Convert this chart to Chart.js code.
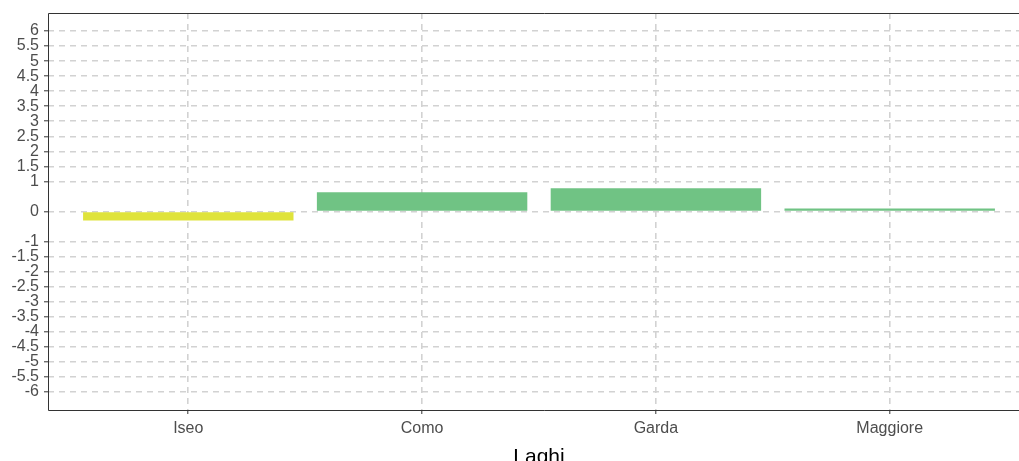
<!DOCTYPE html>
<html>
<head>
<meta charset="utf-8">
<script src="https://cdn.jsdelivr.net/npm/chart.js@4/dist/chart.umd.min.js"></script>
<style>
  html, body { margin: 0; padding: 0; background: #fff; overflow: hidden; }
  #wrap { width: 1019px; height: 461px; overflow: hidden; }
  canvas { display: block; }
</style>
</head>
<body>
<div id="wrap"><canvas id="laghiChart" width="1040" height="470"></canvas></div>
<script>
// Dati del grafico
const laghi = ['Iseo', 'Como', 'Garda', 'Maggiore'];
const valori = [-0.3, 0.64, 0.77, 0.1];
const coloriBarre = ['#dfe33c', '#70c384', '#70c384', '#70c384'];
const tickY = [-6, -5.5, -5, -4.5, -4, -3.5, -3, -2.5, -2, -1.5, -1, 0, 1, 1.5, 2, 2.5, 3, 3.5, 4, 4.5, 5, 5.5, 6];

const griglia = '#d2d2d2';
const testo = '#4d4d4d';
const fontBase = 'Arial, "Liberation Sans"';

// Bordo del pannello (stile ggplot theme_bw), il lato destro esce dall'immagine
const bordoPannello = {
    id: 'bordoPannello',
    afterDraw(chart) {
        const { ctx, chartArea } = chart;
        const l = chartArea.left + 0.5, t = chartArea.top + 0.5;
        const r = chart.width + 5, b = chartArea.bottom + 0.5;
        ctx.save();
        ctx.strokeStyle = '#333333';
        ctx.lineWidth = 1;
        ctx.beginPath();
        ctx.moveTo(r, t);
        ctx.lineTo(l, t);
        ctx.lineTo(l, b);
        ctx.lineTo(r, b);
        ctx.stroke();
        ctx.restore();
    }
};

const ctx = document.getElementById('laghiChart').getContext('2d');
new Chart(ctx, {
    type: 'bar',
    data: {
        datasets: [{
            data: laghi.map((l, i) => ({ x: i + 1, y: valori[i] })),
            backgroundColor: coloriBarre,
            borderWidth: 0,
            barPercentage: 0.9,
            categoryPercentage: 1
        }]
    },
    options: {
        responsive: false,
        animation: false,
        layout: { padding: { top: 9, right: 10, left: 0, bottom: 0 } },
        plugins: {
            legend: { display: false },
            tooltip: { enabled: false }
        },
        scales: {
            x: {
                type: 'linear',
                offset: false,
                min: 0.4,
                max: 4.6,
                afterBuildTicks: scale => {
                    scale.ticks = laghi.map((l, i) => ({ value: i + 1 }));
                },
                afterFit: scale => { scale.height = 60; },
                ticks: {
                    autoSkip: false,
                    maxRotation: 0,
                    padding: 5,
                    color: testo,
                    font: { family: fontBase, size: 16 },
                    callback: v => laghi[v - 1]
                },
                grid: {
                    offset: false,
                    color: griglia,
                    tickColor: '#333333',
                    tickLength: 4,
                    tickBorderDash: [],
                    tickWidth: 1,
                    lineWidth: 1.6
                },
                border: { display: false, dash: [6, 5] },
                title: {
                    display: true,
                    text: 'Laghi',
                    color: '#000',
                    padding: { top: 0, bottom: 0 },
                    font: { family: fontBase, size: 21 }
                }
            },
            y: {
                min: -6.6,
                max: 6.6,
                afterBuildTicks: scale => {
                    scale.ticks = tickY.map(v => ({ value: v }));
                },
                afterFit: scale => { scale.width = 48; },
                ticks: {
                    autoSkip: false,
                    padding: 5,
                    color: testo,
                    font: { family: fontBase, size: 16, lineHeight: 1 },
                    callback: v => String(v)
                },
                grid: {
                    color: griglia,
                    tickColor: '#333333',
                    tickLength: 4,
                    tickBorderDash: [],
                    tickWidth: 1,
                    lineWidth: 1.6
                },
                border: { display: false, dash: [6, 5] }
            }
        }
    },
    plugins: [bordoPannello]
});
</script>
</body>
</html>
